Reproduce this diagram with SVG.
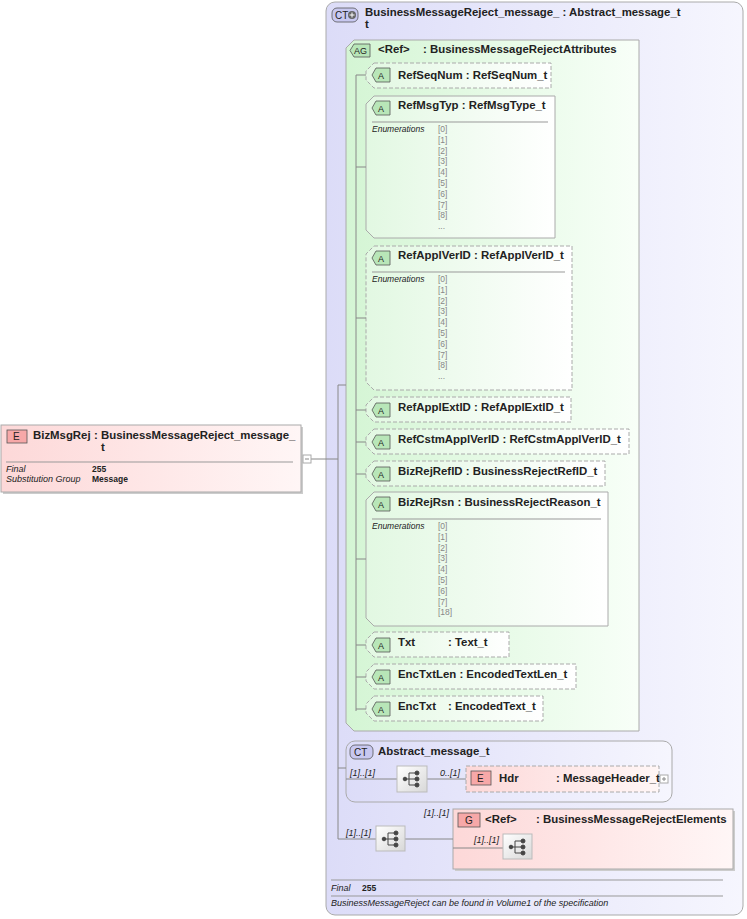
<svg xmlns="http://www.w3.org/2000/svg" width="747" height="919" viewBox="0 0 747 919">
<defs>
<linearGradient id="gCT" x1="0" y1="0" x2="1" y2="0"><stop offset="0" stop-color="#dcdcf8"/><stop offset="1" stop-color="#f6f6fe"/></linearGradient>
<linearGradient id="gAG" x1="0" y1="0" x2="1" y2="0"><stop offset="0" stop-color="#d4f5d4"/><stop offset="1" stop-color="#f8fff8"/></linearGradient>
<linearGradient id="gA" x1="0" y1="0" x2="1" y2="0"><stop offset="0" stop-color="#e2f8e2"/><stop offset="1" stop-color="#ffffff"/></linearGradient>
<linearGradient id="gE" x1="0" y1="0" x2="1" y2="0"><stop offset="0" stop-color="#fdd8d8"/><stop offset="1" stop-color="#fff6f6"/></linearGradient>
<linearGradient id="gS" x1="0" y1="0" x2="1" y2="1"><stop offset="0" stop-color="#ffffff"/><stop offset="1" stop-color="#d8d8d8"/></linearGradient>
</defs>
<style>
text{font-family:"Liberation Sans",Arial,sans-serif;fill:#222}
.b{font-weight:bold;font-size:11.4px}
.i{font-style:italic;font-size:8.5px}
.v{font-size:8.5px;font-weight:bold}
.en{font-size:8.5px;fill:#888}
.c{font-style:italic;font-size:9px}
.ln{stroke:#888;stroke-width:1;fill:none}
.att{fill:url(#gA);stroke:#aaa;stroke-width:1}
.d{stroke-dasharray:4,2}
.ab{fill:#b8e6b8;stroke:#555;stroke-width:0.8}
.eb{fill:#f7a8a8;stroke:#555;stroke-width:0.8}
.sep{stroke:#999;stroke-width:1}
.seq{fill:url(#gS);stroke:#bbb}
</style>

<g id="ct-main">
<rect x="326" y="2" width="417" height="913" rx="9" fill="url(#gCT)" stroke="#aaa"/>
<rect x="332" y="8" width="26" height="14" rx="5" fill="#c8c8f0" stroke="#555" stroke-width="0.8"/>
<text x="335" y="19" font-size="10">CT</text><circle cx="352" cy="15" r="4" fill="#666"/><path d="M349.5 15h5M352 12.5v5" stroke="#fff"/>
<text x="365" y="16" class="b">BusinessMessageReject_message_ : Abstract_message_t</text>
<text x="365" y="28" class="b">t</text>
<line x1="331" y1="880" x2="723" y2="880" class="sep"/>
<text x="331" y="891" class="c">Final</text><text x="362" y="891" class="v">255</text>
<line x1="331" y1="896" x2="723" y2="896" class="sep"/>
<text x="331" y="906" class="c">BusinessMessageReject can be found in Volume1 of the specification</text>
</g>

<g id="ag">
<path d="M354 40H639V731H354L346 723V48Z" fill="url(#gAG)" stroke="#aaa"/>
<path d="M354 44H370V57H354L350 50.5Z" class="ab"/><text x="354" y="54" font-size="9">AG</text>
<text x="378" y="53" class="b">&lt;Ref&gt;</text><text x="423" y="53" class="b">: BusinessMessageRejectAttributes</text>
</g>

<g id="RefSeqNum"><path d="M374 63H551V88H374L366 80V71Z" class="att d"/><path d="M376 68H390V82H376L372 75Z" class="ab"/><text x="378" y="79" font-size="9">A</text><text x="398" y="79" class="b">RefSeqNum : RefSeqNum_t</text></g>

<g id="RefMsgTyp"><path d="M374 96H555V238H374L366 230V104Z" class="att"/><path d="M376 101H390V115H376L372 108Z" class="ab"/><text x="378" y="112" font-size="9">A</text><text x="398" y="109" class="b">RefMsgTyp : RefMsgType_t</text>
<line x1="372" y1="122" x2="548" y2="122" class="sep"/><text x="372" y="132" class="i">Enumerations</text>
<text class="en"><tspan x="438" y="132">[0]</tspan><tspan x="438" y="142.8">[1]</tspan><tspan x="438" y="153.6">[2]</tspan><tspan x="438" y="164.4">[3]</tspan><tspan x="438" y="175.2">[4]</tspan><tspan x="438" y="186">[5]</tspan><tspan x="438" y="196.8">[6]</tspan><tspan x="438" y="207.6">[7]</tspan><tspan x="438" y="218.4">[8]</tspan><tspan x="438" y="229.2">...</tspan></text></g>

<g id="RefApplVerID"><path d="M374 246H572V390H374L366 382V254Z" class="att d"/><path d="M376 251H390V265H376L372 258Z" class="ab"/><text x="378" y="262" font-size="9">A</text><text x="398" y="259" class="b">RefApplVerID : RefApplVerID_t</text>
<line x1="372" y1="272" x2="565" y2="272" class="sep"/><text x="372" y="282" class="i">Enumerations</text>
<text class="en"><tspan x="438" y="282">[0]</tspan><tspan x="438" y="292.8">[1]</tspan><tspan x="438" y="303.6">[2]</tspan><tspan x="438" y="314.4">[3]</tspan><tspan x="438" y="325.2">[4]</tspan><tspan x="438" y="336">[5]</tspan><tspan x="438" y="346.8">[6]</tspan><tspan x="438" y="357.6">[7]</tspan><tspan x="438" y="368.4">[8]</tspan><tspan x="438" y="379.2">...</tspan></text></g>

<g id="RefApplExtID"><path d="M374 397H571V422H374L366 414V405Z" class="att d"/><path d="M376 403H390V417H376L372 410Z" class="ab"/><text x="378" y="414" font-size="9">A</text><text x="398" y="411" class="b">RefApplExtID : RefApplExtID_t</text></g>

<g id="RefCstmApplVerID"><path d="M374 429H629V454H374L366 446V437Z" class="att d"/><path d="M376 435H390V449H376L372 442Z" class="ab"/><text x="378" y="446" font-size="9">A</text><text x="398" y="443" class="b">RefCstmApplVerID : RefCstmApplVerID_t</text></g>

<g id="BizRejRefID"><path d="M374 461H605V486H374L366 478V469Z" class="att d"/><path d="M376 467H390V481H376L372 474Z" class="ab"/><text x="378" y="478" font-size="9">A</text><text x="398" y="475" class="b">BizRejRefID : BusinessRejectRefID_t</text></g>

<g id="BizRejRsn"><path d="M374 492H608V626H374L366 618V500Z" class="att"/><path d="M376 497H390V511H376L372 504Z" class="ab"/><text x="378" y="508" font-size="9">A</text><text x="398" y="506" class="b">BizRejRsn : BusinessRejectReason_t</text>
<line x1="372" y1="519" x2="601" y2="519" class="sep"/><text x="372" y="529" class="i">Enumerations</text>
<text class="en"><tspan x="438" y="529">[0]</tspan><tspan x="438" y="539.8">[1]</tspan><tspan x="438" y="550.6">[2]</tspan><tspan x="438" y="561.4">[3]</tspan><tspan x="438" y="572.2">[4]</tspan><tspan x="438" y="583">[5]</tspan><tspan x="438" y="593.8">[6]</tspan><tspan x="438" y="604.6">[7]</tspan><tspan x="438" y="615.4">[18]</tspan></text></g>

<g id="Txt"><path d="M374 632H509V657H374L366 649V640Z" class="att d"/><path d="M376 638H390V652H376L372 645Z" class="ab"/><text x="378" y="649" font-size="9">A</text><text x="398" y="646" class="b">Txt</text><text x="448" y="646" class="b">: Text_t</text></g>

<g id="EncTxtLen"><path d="M374 664H576V689H374L366 681V672Z" class="att d"/><path d="M376 670H390V684H376L372 677Z" class="ab"/><text x="378" y="681" font-size="9">A</text><text x="398" y="678" class="b">EncTxtLen : EncodedTextLen_t</text></g>

<g id="EncTxt"><path d="M374 696H543V721H374L366 713V704Z" class="att d"/><path d="M376 702H390V716H376L372 709Z" class="ab"/><text x="378" y="713" font-size="9">A</text><text x="398" y="710" class="b">EncTxt</text><text x="448" y="710" class="b">: EncodedText_t</text></g>

<g id="ct-abstract">
<rect x="346" y="741" width="326" height="61" rx="9" fill="url(#gCT)" stroke="#aaa"/>
<rect x="350" y="745" width="23" height="14" rx="5" fill="#c8c8f0" stroke="#555" stroke-width="0.8"/><text x="354" y="756" font-size="10">CT</text>
<text x="378" y="755" class="b">Abstract_message_t</text>
<text x="350" y="776" class="c">[1]..[1]</text>
<text x="440" y="776" class="c">0..[1]</text>
</g>

<g id="group-ref">
<text x="424" y="816" class="c">[1]..[1]</text>
<rect x="455" y="811" width="280" height="60" fill="#ccc"/>
<rect x="453" y="809" width="280" height="60" fill="url(#gE)" stroke="#aaa"/>
<rect x="458" y="813" width="22" height="14" class="eb"/><text x="465" y="824" font-size="10">G</text>
<text x="485" y="823" class="b">&lt;Ref&gt;</text><text x="536" y="823" class="b">: BusinessMessageRejectElements</text>
<text x="474" y="843" class="c">[1]..[1]</text>
</g>

<g id="connectors">
<path class="ln" d="M307 459H338M338 385V839M338 385H346M338 768H346M338 839H376M405 839H453M356 75V711M346 779H397M427 779H466M453 848H503"/>
<path class="ln" d="M356 75H366M356 167H366M356 318H366M356 410H366M356 442H366M356 474H366M356 559H366M356 645H366M356 677H366M356 709H366"/>
</g>

<g id="seq1"><rect x="397" y="766" width="30" height="26" class="seq"/><g fill="#444" stroke="#444"><circle cx="405" cy="779" r="1.8"/><path d="M405 779H409M409 773V785M409 773H416M409 779H416M409 785H416" fill="none"/><circle cx="417" cy="773" r="2"/><circle cx="417" cy="779" r="2"/><circle cx="417" cy="785" r="2"/></g></g>

<g id="Hdr"><rect x="466" y="766" width="193" height="26" fill="url(#gE)" stroke="#aaa" stroke-dasharray="4,2"/><rect x="471" y="771" width="20" height="14" class="eb"/><text x="477" y="782" font-size="10">E</text><text x="499" y="782" class="b">Hdr</text><text x="556" y="782" class="b">: MessageHeader_t</text>
<rect x="660" y="775" width="8" height="8" fill="#fff" stroke="#aaa"/><path d="M662 779H666M664 777V781" stroke="#888"/></g>

<g id="seq2"><text x="346" y="836" class="c">[1]..[1]</text><rect x="376" y="826" width="29" height="25" class="seq"/><g fill="#444" stroke="#444"><circle cx="384" cy="839" r="1.8"/><path d="M384 839H388M388 833V845M388 833H395M388 839H395M388 845H395" fill="none"/><circle cx="396" cy="833" r="2"/><circle cx="396" cy="839" r="2"/><circle cx="396" cy="845" r="2"/></g></g>

<g id="seq3"><rect x="503" y="834" width="29" height="25" class="seq"/><g fill="#444" stroke="#444"><circle cx="511" cy="847" r="1.8"/><path d="M511 847H515M515 841V853M515 841H522M515 847H522M515 853H522" fill="none"/><circle cx="523" cy="841" r="2"/><circle cx="523" cy="847" r="2"/><circle cx="523" cy="853" r="2"/></g></g>

<g id="BizMsgRej">
<rect x="3" y="427" width="300" height="67" fill="#ccc"/>
<rect x="1" y="425" width="300" height="67" fill="url(#gE)" stroke="#aaa"/>
<rect x="7" y="430" width="20" height="13" class="eb"/><text x="13" y="440" font-size="10">E</text>
<text x="33" y="439" class="b">BizMsgRej</text><text x="94" y="439" class="b">: BusinessMessageReject_message_</text>
<text x="101" y="451" class="b">t</text>
<line x1="6" y1="462" x2="293" y2="462" class="sep"/>
<text x="6" y="472" class="c">Final</text><text x="92" y="472" class="v">255</text>
<text x="6" y="482" class="c">Substitution Group</text><text x="92" y="482" class="v">Message</text>
<rect x="303" y="455" width="8" height="8" fill="#fff" stroke="#aaa"/><path d="M305 459H309" stroke="#888"/>
</g>
</svg>
